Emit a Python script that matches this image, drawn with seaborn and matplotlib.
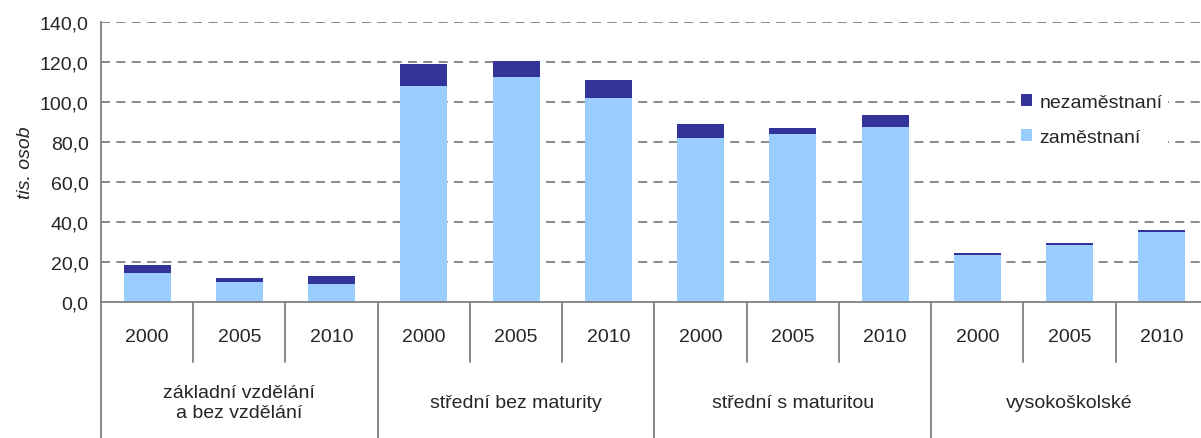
import numpy as np
import pandas as pd
import matplotlib
matplotlib.use("Agg")
import matplotlib.pyplot as plt
import matplotlib.transforms as mtrans
import seaborn as sb

# data (tis. osob)
skupiny = ["základní vzdělání\na bez vzdělání", "střední bez maturity",
           "střední s maturitou", "vysokoškolské"]
roky = ["2000", "2005", "2010"]
zamestnani = [14.3, 9.8, 8.8, 107.8, 112.3, 101.8, 81.8, 83.8, 87.3, 23.3, 28.3, 34.8]
nezamestnani = [4.0, 2.0, 4.0, 11.0, 8.0, 9.0, 7.0, 3.0, 6.0, 1.0, 1.0, 0.9]

tmava = "#333399"
svetla = "#99CCFF"
seda = "#808080"

sb.set_style("white")
plt.rcParams["font.family"] = ["Liberation Sans", "DejaVu Sans"]

data = pd.DataFrame({
    "slot": [str(i) for i in range(len(zamestnani))],
    "zam": zamestnani,
    "nezam": nezamestnani,
})
data["celkem"] = data["zam"] + data["nezam"]

fig = plt.figure(figsize=(12.01, 4.39), dpi=100)
ax = fig.add_axes([0.0841, 0.3105, 0.9217, 0.6378])

# stacked bars: total first (dark), then employed over it (light)
sb.barplot(data=data, x="slot", y="celkem", color=tmava, width=0.51,
           saturation=1, linewidth=0, label="nezaměstnaní", ax=ax)
sb.barplot(data=data, x="slot", y="zam", color=svetla, width=0.51,
           saturation=1, linewidth=0, label="zaměstnaní", ax=ax)

fs = 14
ax.set_ylim(0, 140)
ax.set_xlim(-0.5, len(zamestnani) - 0.5)
ax.set_yticks(np.arange(0, 141, 20))
ax.set_yticklabels([f"{v:.1f}".replace(".", ",") for v in np.arange(0, 141, 20)],
                   fontsize=fs)
ax.set_xticks([])
ax.set_xlabel("")
ax.set_ylabel("tis. osob", fontsize=fs, style="italic", labelpad=4)
ax.tick_params(axis="y", direction="out", length=5, color=seda, width=1.2, pad=4)

for v in np.arange(20, 141, 20):
    ax.axhline(v, color=seda, lw=1.3, ls=(0, (5, 3.5)), zorder=0)

for s in ["top", "right"]:
    ax.spines[s].set_visible(False)
for s in ["left", "bottom"]:
    ax.spines[s].set_color(seda)
    ax.spines[s].set_linewidth(1.3)

# category axis below the plot
tr = mtrans.blended_transform_factory(ax.transData, ax.transAxes)
n = len(zamestnani)
for i in range(n):
    ax.text(i, -0.125, roky[i % len(roky)], transform=tr, ha="center",
            va="center", fontsize=fs)
for i in range(n + 1):
    x = i - 0.5
    low = -0.49 if i % len(roky) == 0 else -0.215
    ax.plot([x, x], [0, low], transform=tr, color=seda, lw=1.3, clip_on=False)
for g, nazev in enumerate(skupiny):
    xc = g * len(roky) + 1
    ax.text(xc, -0.36, nazev, transform=tr, ha="center", va="center",
            fontsize=fs, linespacing=1.2)

leg = ax.legend(loc="upper left", bbox_to_anchor=(0.837, 0.82),
                bbox_transform=fig.transFigure, fontsize=fs, frameon=True,
                handlelength=0.6, handleheight=0.6, handletextpad=0.35,
                labelspacing=0.95, borderpad=0.3, fancybox=False)
leg.get_frame().set_facecolor("white")
leg.get_frame().set_edgecolor("none")
leg.get_frame().set_alpha(1)

fig.savefig("out.png", dpi=100)
